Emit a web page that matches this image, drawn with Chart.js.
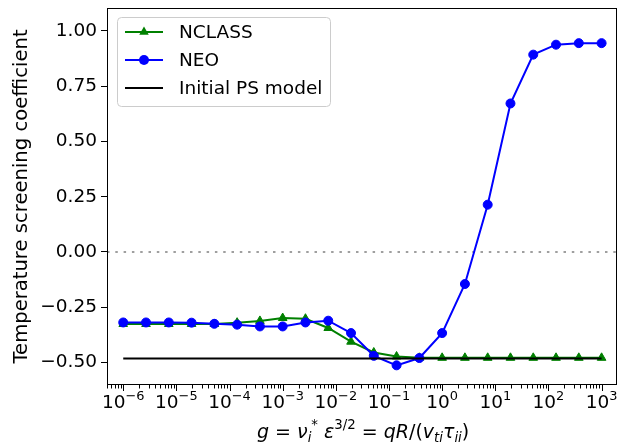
<!DOCTYPE html>
<html lang="en">
<head>
  <meta charset="UTF-8" />
  <title>Temperature screening coefficient</title>
  <script src="https://cdn.jsdelivr.net/npm/chart.js"></script>
  <style>
    html, body { margin: 0; padding: 0; background: #fff; }
  </style>
</head>
<body>
  <canvas id="grafica" width="626" height="443"></canvas>

  <script>
    const FUENTE = 'DejaVu Sans';

    // collisionality g, log-spaced from 1e-6 to 1e3
    const gValues = [1e-6, 2.683e-6, 7.197e-6, 1.931e-5, 5.179e-5, 1.389e-4, 3.728e-4, 1e-3,
      2.683e-3, 7.197e-3, 1.931e-2, 5.179e-2, 0.1389, 0.3728, 1.0, 2.683, 7.197, 19.31,
      51.79, 138.9, 372.8, 1000];

    const nclass = [-0.326, -0.326, -0.326, -0.326, -0.326, -0.320, -0.312, -0.299,
      -0.302, -0.344, -0.406, -0.455, -0.473, -0.479, -0.479, -0.479, -0.479, -0.479,
      -0.479, -0.479, -0.479, -0.479];

    const neo = [-0.319, -0.319, -0.319, -0.320, -0.325, -0.329, -0.337, -0.337,
      -0.319, -0.311, -0.367, -0.470, -0.513, -0.480, -0.367, -0.145, 0.214, 0.672,
      0.893, 0.938, 0.945, 0.945];

    const psModelX = [1e-6, 1e3];
    const psModelY = [-0.482, -0.482];

    const xRange = [4.95e-7, 1.95e3];
    const yRange = [-0.602, 1.104];
    const yTicks = [-0.5, -0.25, 0, 0.25, 0.5, 0.75, 1.0];
    const xDecades = [-6, -5, -4, -3, -2, -1, 0, 1, 2, 3];

    const puntos = (xs, ys) => xs.map((x, i) => ({ x: x, y: ys[i] }));

    // texto con sub/superindices: [texto, cursiva, 'sub'|'sup'|null]
    function textoRico(ctx, partes, x, base, size) {
      let cx = x;
      partes.forEach(([t, it, pos]) => {
        const s = pos ? size * 0.7 : size;
        let dy = 0;
        if (pos === 'sub') dy = size * 0.22;
        if (pos === 'sup') dy = -size * 0.45;
        ctx.font = (it ? 'italic ' : '') + s + 'px "' + FUENTE + '"';
        ctx.fillText(t, cx, base + dy);
        cx += ctx.measureText(t).width;
      });
      return cx - x;
    }

    const tituloX = [
      ['g', true], [' = ', false], ['ν', true], ['i', true, 'sub'], ['*', false, 'sup'],
      [' ', false], ['ε', true], ['3/2', false, 'sup'], [' = ', false],
      ['qR', true], ['/(', false], ['v', true], ['ti', true, 'sub'],
      ['τ', true], ['ii', true, 'sub'], [')', false]
    ];

    const extras = {
      id: 'extras',
      afterDraw(chart) {
        const { ctx, chartArea: a, scales } = chart;
        const sx = scales.x;
        ctx.save();

        // marco de los ejes
        ctx.strokeStyle = '#000';
        ctx.lineWidth = 1;
        ctx.strokeRect(a.left + 0.5, a.top + 0.5, a.right - a.left - 1, a.bottom - a.top - 1);

        // marcas del eje x (mayores y menores)
        ctx.beginPath();
        for (let d = -7; d <= 3; d++) {
          for (let m = 1; m <= 9; m++) {
            const v = m * Math.pow(10, d);
            if (v < xRange[0] || v > xRange[1]) continue;
            const px = Math.round(sx.getPixelForValue(v)) + 0.5;
            const len = m === 1 ? 6 : 3.5;
            ctx.moveTo(px, a.bottom);
            ctx.lineTo(px, a.bottom + len);
          }
        }
        ctx.stroke();

        // etiquetas 10^n
        ctx.fillStyle = '#000';
        ctx.textBaseline = 'alphabetic';
        ctx.textAlign = 'left';
        xDecades.forEach(d => {
          const px = sx.getPixelForValue(Math.pow(10, d));
          const exp = d < 0 ? '\u2212' + Math.abs(d) : String(d);
          const partes = [['10', false], [exp, false, 'sup']];
          ctx.font = '18.5px "' + FUENTE + '"';
          const w1 = ctx.measureText('10').width;
          ctx.font = (18.5 * 0.7) + 'px "' + FUENTE + '"';
          const w2 = ctx.measureText(exp).width;
          textoRico(ctx, partes, px - (w1 + w2) / 2, 408, 18.5);
        });

        // titulo del eje x
        textoRico(ctx, tituloX, 257, 438, 19);

        // leyenda
        const lx = 117.5, ly = 17.5, lw = 213, lh = 89;
        ctx.beginPath();
        ctx.roundRect(lx, ly, lw, lh, 4);
        ctx.fillStyle = 'rgba(255,255,255,0.8)';
        ctx.fill();
        ctx.strokeStyle = '#cccccc';
        ctx.stroke();

        const entradas = chart.data.datasets.filter(ds => ds.label);
        entradas.forEach((ds, i) => {
          const y = 32 + i * 28;
          ctx.strokeStyle = ds.borderColor;
          ctx.lineWidth = 2;
          ctx.beginPath();
          ctx.moveTo(125, y);
          ctx.lineTo(163, y);
          ctx.stroke();
          if (ds.pointRadius > 0) {
            ctx.fillStyle = ds.borderColor;
            ctx.beginPath();
            if (ds.pointStyle === 'triangle') {
              const r = ds.pointRadius + 0.5;
              ctx.moveTo(144, y - r);
              ctx.lineTo(144 + r * 0.866, y + r / 2);
              ctx.lineTo(144 - r * 0.866, y + r / 2);
              ctx.closePath();
            } else {
              ctx.arc(144, y, ds.pointRadius + 0.5, 0, Math.PI * 2);
            }
            ctx.fill();
          }
          ctx.fillStyle = '#000';
          ctx.font = '18.5px "' + FUENTE + '"';
          ctx.textBaseline = 'middle';
          ctx.fillText(ds.label, 179, y + 1);
        });

        ctx.restore();
      }
    };

    new Chart(document.getElementById('grafica'), {
      type: 'line',
      data: {
        datasets: [
          {
            label: 'NCLASS',
            data: puntos(gValues, nclass),
            borderColor: '#008000',
            backgroundColor: '#008000',
            borderWidth: 2,
            pointStyle: 'triangle',
            pointRadius: 5,
            pointBorderWidth: 1,
            order: 3
          },
          {
            label: 'NEO',
            data: puntos(gValues, neo),
            borderColor: '#0000ff',
            backgroundColor: '#0000ff',
            borderWidth: 2,
            pointStyle: 'circle',
            pointRadius: 4.5,
            pointBorderWidth: 1,
            order: 2
          },
          {
            label: 'Initial PS model',
            data: puntos(psModelX, psModelY),
            borderColor: '#000000',
            borderWidth: 2,
            pointRadius: 0,
            order: 1
          },
          {
            data: puntos(xRange, [0, 0]),
            borderColor: '#808080',
            borderWidth: 1.5,
            borderDash: [2.5, 5.8],
            pointRadius: 0,
            order: 4
          }
        ]
      },
      options: {
        responsive: false,
        animation: false,
        devicePixelRatio: 1,
        layout: { padding: { top: 8, right: 9, left: 0, bottom: 0 } },
        plugins: { legend: { display: false }, tooltip: { enabled: false } },
        scales: {
          x: {
            type: 'logarithmic',
            min: xRange[0],
            max: xRange[1],
            grid: { display: false },
            border: { display: false },
            ticks: { display: false },
            afterFit: s => { s.height = 58; s.paddingLeft = 0; s.paddingRight = 0; }
          },
          y: {
            type: 'linear',
            min: yRange[0],
            max: yRange[1],
            afterBuildTicks: s => { s.ticks = yTicks.map(v => ({ value: v })); },
            grid: {
              drawOnChartArea: false,
              drawTicks: true,
              tickLength: 6,
              tickColor: '#000',
              tickWidth: 1
            },
            border: { display: false },
            ticks: {
              color: '#000',
              padding: 4,
              font: { family: FUENTE, size: 18.5 },
              callback: v => (v < 0 ? '\u2212' : '') + Math.abs(v).toFixed(2)
            },
            title: {
              display: true,
              text: 'Temperature screening coefficient',
              color: '#000',
              font: { family: FUENTE, size: 19.6 },
              padding: { top: 10, bottom: 0 }
            },
            afterFit: s => { s.width = 107; s.paddingTop = 0; s.paddingBottom = 0; }
          }
        }
      },
      plugins: [extras]
    });
  </script>
</body>
</html>
